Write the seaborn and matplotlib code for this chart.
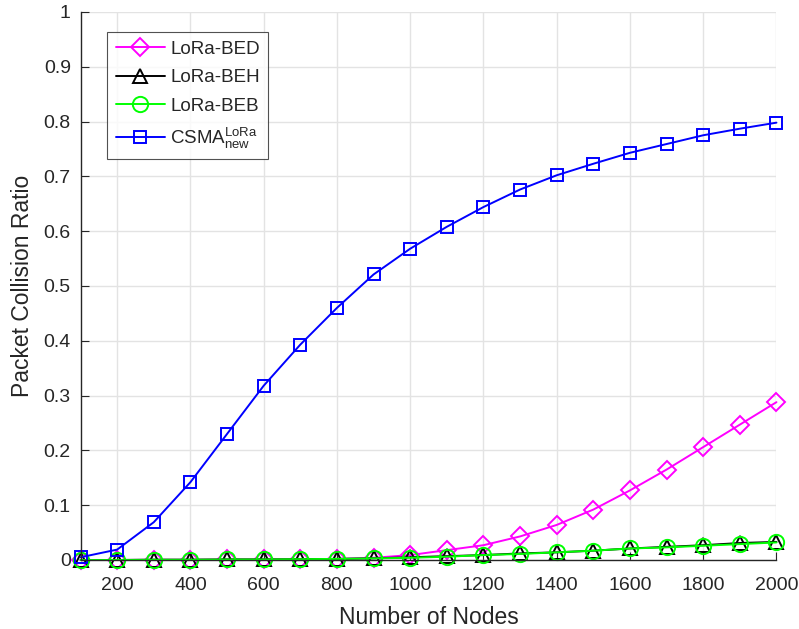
import numpy as np
import pandas as pd
import seaborn as sns
import matplotlib.pyplot as plt

# datos del grafico
nodes = [100, 200, 300, 400, 500, 600, 700, 800, 900, 1000,
         1100, 1200, 1300, 1400, 1500, 1600, 1700, 1800, 1900, 2000]
bed = [0.0, 0.0, 0.0005, 0.0005, 0.001, 0.001, 0.0015, 0.002, 0.004, 0.009,
       0.018, 0.027, 0.043, 0.064, 0.092, 0.127, 0.165, 0.206, 0.247, 0.288]
beh = [0.0, 0.0, 0.0005, 0.0005, 0.001, 0.001, 0.0015, 0.002, 0.003, 0.005,
       0.007, 0.009, 0.012, 0.014, 0.017, 0.021, 0.024, 0.027, 0.031, 0.033]
beb = [0.0, 0.0, 0.0005, 0.0005, 0.001, 0.001, 0.0015, 0.002, 0.003, 0.004,
       0.006, 0.009, 0.011, 0.014, 0.017, 0.021, 0.023, 0.026, 0.029, 0.032]
csma = [0.005, 0.019, 0.069, 0.142, 0.230, 0.318, 0.393, 0.460, 0.521, 0.568,
        0.608, 0.644, 0.676, 0.702, 0.723, 0.743, 0.759, 0.775, 0.787, 0.798]

series = [('LoRa-BED', bed, '#ff00ff', 'D', 9),
          ('LoRa-BEH', beh, '#000000', '^', 10),
          ('LoRa-BEB', beb, '#00ff00', 'o', 11),
          (r'CSMA$_{new}^{LoRa}$', csma, '#0000ff', 's', 9)]

sns.set_style('white')
plt.rcParams['font.family'] = ['Liberation Sans', 'DejaVu Sans']
plt.rcParams['mathtext.default'] = 'regular'

fig = plt.figure(figsize=(7.99, 6.29), dpi=100)
ax = fig.add_axes([0.1008, 0.1097, 0.871, 0.8713])

for name, vals, col, mk, ms in series:
    df = pd.DataFrame({'x': nodes, 'y': vals})
    sns.lineplot(data=df, x='x', y='y', ax=ax, color=col, marker=mk,
                 markersize=ms, markerfacecolor='none', markeredgecolor=col,
                 markeredgewidth=1.4, linewidth=1.4, label=name, clip_on=False)

ax.set_xlim(100, 2000)
ax.set_ylim(0, 1)
ax.set_xticks(np.arange(200, 2001, 200))
ax.set_yticks(np.arange(0, 1.01, 0.1))
ax.set_yticklabels(['0', '0.1', '0.2', '0.3', '0.4', '0.5', '0.6', '0.7', '0.8', '0.9', '1'])
ax.grid(True, color='#e3e3e3', linewidth=1)
ax.set_axisbelow(True)
for s in ['top', 'right']:
    ax.spines[s].set_visible(False)
for s in ['left', 'bottom']:
    ax.spines[s].set_color('#262626')
    ax.spines[s].set_linewidth(1)
ax.tick_params(direction='in', length=6, labelsize=14, colors='#262626',
               left=True, bottom=True)
ax.tick_params(axis='x', pad=12)
ax.tick_params(axis='y', pad=7)
ax.set_xlabel('Number of Nodes', fontsize=16.5, color='#262626', labelpad=9)
ax.set_ylabel('Packet Collision Ratio', fontsize=16.5, color='#262626', labelpad=7)

leg = ax.legend(loc='upper left', bbox_to_anchor=(0.0385, 0.963), fontsize=13.5,
                frameon=True, fancybox=False, handlelength=2.6, borderpad=0.45,
                labelspacing=0.6, handletextpad=0.3, borderaxespad=0)
leg.get_frame().set_edgecolor('#262626')
leg.get_frame().set_linewidth(0.8)

fig.savefig('out.png', dpi=100)
